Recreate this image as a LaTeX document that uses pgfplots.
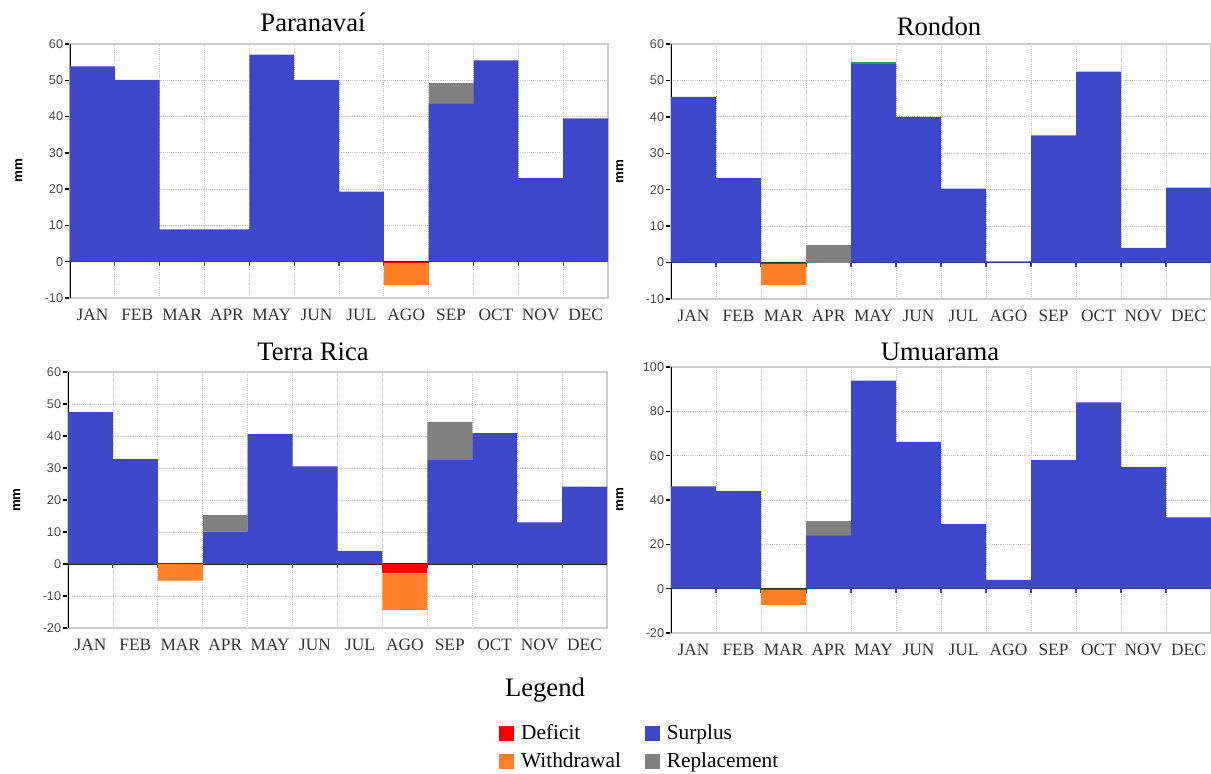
\documentclass[border=0pt]{standalone}
\usepackage{fontspec}
\setmainfont{Liberation Serif}
\newfontfamily\sans{Liberation Sans}
\usepackage{pgfplots}
\usepackage{pgfplotstable}
\pgfplotsset{compat=1.18}

\definecolor{cblue}{RGB}{62,71,200}
\definecolor{corange}{RGB}{255,127,39}
\definecolor{cgray}{RGB}{128,128,128}
\definecolor{cred}{RGB}{250,0,0}
\definecolor{cgreen}{RGB}{40,160,60}

% m sur rep grn def wd
\pgfplotstableread{
m sur rep grn def wd
0 53.8 0 0 0 0
1 50.1 0 0 0 0
2 8.9 0 0 0 0
3 8.9 0 0 0 0
4 57.1 0 0 0 0
5 50.1 0 0 0 0
6 19.3 0 0 0 0
7 0 0 0 -0.4 -6.0
8 43.5 5.7 0 0 0
9 55.5 0 0 0 0
10 23.0 0 0 0 0
11 39.5 0 0 0 0
}\tParanavai

\pgfplotstableread{
m sur rep grn def wd
0 45.5 0 0 0 0
1 23.2 0 0 0 0
2 0 0 0 -0.5 -5.7
3 0 4.7 0 0 0
4 54.5 0 0.6 0 0
5 40.0 0 0 0 0
6 20.3 0 0 0 0
7 0.3 0 0 0 0
8 34.9 0 0 0 0
9 52.4 0 0 0 0
10 4.0 0 0 0 0
11 20.6 0 0 0 0
}\tRondon

\pgfplotstableread{
m sur rep grn def wd
0 47.5 0 0 0 0
1 32.8 0 0 0 0
2 0 0 0 0 -5.2
3 10.1 5.2 0 0 0
4 40.6 0 0 0 0
5 30.5 0 0 0 0
6 4.1 0 0 0 0
7 0 0 0 -2.9 -11.5
8 32.5 11.9 0 0 0
9 40.9 0 0 0 0
10 13.0 0 0 0 0
11 24.2 0 0 0 0
}\tTerraRica

\pgfplotstableread{
m sur rep grn def wd
0 46.2 0 0 0 0
1 44.0 0 0 0 0
2 0 0 0 -0.8 -6.5
3 23.9 6.7 0 0 0
4 93.8 0 0 0 0
5 66.2 0 0 0 0
6 29.1 0 0 0 0
7 4.0 0 0 0 0
8 58.0 0 0 0 0
9 84.0 0 0 0 0
10 54.8 0 0 0 0
11 32.2 0 0 0 0
}\tUmuarama

\pgfplotsset{
  wb/.style={
    scale only axis,
    ybar stacked, bar width=1,
    xmin=-0.5, xmax=11.5,
    xtick={0,...,11},
    xticklabels={JAN,FEB,MAR,APR,MAY,JUN,JUL,AGO,SEP,OCT,NOV,DEC},
    minor xtick={0.5,1.5,...,10.5},
    xtick style={draw=none},
    minor x tick style={draw=none},
    ytick pos=left,
    xminorgrids=true, ymajorgrids=true,
    grid style={gray!45, densely dotted, line width=0.6pt},
    minor grid style={gray!45, densely dotted, line width=0.6pt},
    axis line style={gray!40, line width=0.8pt},
    ytick style={black, line width=1pt},
    tick align=outside, major tick length=3.5pt,
    /pgf/number format/assume math mode=true,
    yticklabel style={font=\sans\fontsize{9.5}{9.5}\selectfont, text=black!70, inner sep=1.5pt},
    xticklabel style={font=\fontsize{13}{13}\selectfont, text=black!80, yshift=-1pt},
    ylabel=mm,
    every axis y label/.style={at={(axis description cs:-0.095,0.5)}, rotate=90, anchor=center,
      font=\sans\bfseries\fontsize{10}{10}\selectfont},
    extra y ticks={0}, extra y tick labels={},
    extra y tick style={grid=major, grid style={black!85, line width=1pt, solid}},
  },
}

\newcommand{\drawbars}[1]{%
  \addplot[fill=cblue, draw=none] table[x=m, y=sur] {#1};
  \addplot[fill=cgray, draw=none] table[x=m, y=rep] {#1};
  \addplot[fill=cgreen, draw=none] table[x=m, y=grn] {#1};
  \addplot[fill=cred, draw=none] table[x=m, y=def] {#1};
  \addplot[fill=corange, draw=none] table[x=m, y=wd] {#1};
  \pgfplotsinvokeforeach{0.5,1.5,2.5,3.5,4.5,5.5,6.5,7.5,8.5,9.5,10.5}{%
    \draw[black!70, line width=0.8pt] (axis cs:##1,0) -- ++(0pt,-3pt);}
  \draw[black, line width=1.6pt] (rel axis cs:0,0) -- (rel axis cs:0,1);
}

\begin{document}
\begin{tikzpicture}
\path[use as bounding box] (0,0) rectangle (908.25pt,580.5pt);

% Paranavai
\begin{axis}[wb, at={(52.5pt,357pt)}, anchor=south west,
  width=403.5pt, height=190.5pt, ymin=-10, ymax=60, ytick={-10,0,...,60}]
\drawbars{\tParanavai}
\end{axis}

% Rondon
\begin{axis}[wb, at={(503.25pt,356.25pt)}, anchor=south west,
  width=405pt, height=191.25pt, ymin=-10, ymax=60, ytick={-10,0,...,60}]
\drawbars{\tRondon}
\end{axis}

% Terra Rica
\begin{axis}[wb, at={(51pt,109.5pt)}, anchor=south west,
  width=404.25pt, height=192pt, ymin=-20, ymax=60, ytick={-20,-10,...,60}]
\drawbars{\tTerraRica}
\end{axis}

% Umuarama
\begin{axis}[wb, at={(503.25pt,105.75pt)}, anchor=south west,
  width=405pt, height=199.5pt, ymin=-20, ymax=100, ytick={-20,0,...,100}]
\drawbars{\tUmuarama}
\end{axis}

\node[font=\fontsize{20}{20}\selectfont] at (234.75pt,564pt) {Paranavaí};
\node[font=\fontsize{20}{20}\selectfont] at (704.25pt,561pt) {Rondon};
\node[font=\fontsize{20}{20}\selectfont] at (234.75pt,316.5pt) {Terra Rica};
\node[font=\fontsize{20}{20}\selectfont] at (705pt,316.5pt) {Umuarama};
\node[font=\fontsize{20}{20}\selectfont] at (408.75pt,63pt) {Legend};

% legend
\begin{axis}[hide axis, scale only axis, width=1pt, height=1pt,
  at={(374.25pt,39pt)}, anchor=north west, xmin=0, xmax=1, ymin=0, ymax=1,
  legend columns=2,
  legend cell align=left,
  legend style={at={(axis description cs:0,1)}, anchor=north west, draw=none, fill=none,
    inner sep=0pt, font=\fontsize{16}{16}\selectfont, row sep=4pt,
    /tikz/every even column/.append style={column sep=16pt}}]
\addlegendimage{legend image code/.code={\fill[cred] (0pt,-5.25pt) rectangle (10.5pt,5.25pt); \path (14pt,0pt);}}
\addlegendentry{Deficit}
\addlegendimage{legend image code/.code={\fill[cblue] (0pt,-5.25pt) rectangle (10.5pt,5.25pt); \path (14pt,0pt);}}
\addlegendentry{Surplus}
\addlegendimage{legend image code/.code={\fill[corange] (0pt,-5.25pt) rectangle (10.5pt,5.25pt); \path (14pt,0pt);}}
\addlegendentry{Withdrawal}
\addlegendimage{legend image code/.code={\fill[cgray] (0pt,-5.25pt) rectangle (10.5pt,5.25pt); \path (14pt,0pt);}}
\addlegendentry{Replacement}
\end{axis}
\end{tikzpicture}
\end{document}
